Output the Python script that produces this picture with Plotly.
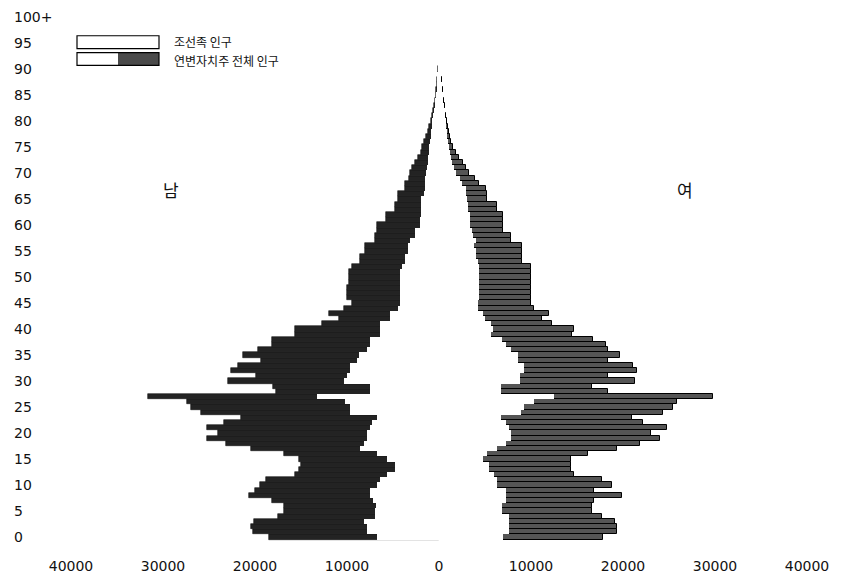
import plotly.graph_objects as go

ages = list(range(0, 101))

male_total = [
    18500, 20200, 20400, 20100, 17500, 16900, 16800, 18200, 20600, 20000,
    19500, 18800, 15700, 15200, 15000, 15200, 16900, 20400, 23200, 25200,
    24000, 25200, 23400, 21500, 25900, 27000, 27400, 31600, 17700, 18000,
    22900, 19900, 22600, 21900, 19300, 21300, 19700, 18200, 18200, 15700,
    15700, 12700, 10900, 12000, 10300, 9500, 10000, 10000, 10000, 9800,
    9800, 9800, 9500, 8600, 8600, 8000, 8000, 7000, 7000, 6700,
    6700, 5800, 5800, 4800, 4800, 4500, 4500, 3700, 3700, 3300,
    3100, 2900, 2600, 2300, 2000, 1800, 1600, 1400, 1200, 1050,
    900, 800, 650, 550, 450, 350, 280, 220, 180, 150,
    120, 30, 20, 15, 10, 8, 5, 4, 3, 2, 2,
]
male_korean = [
    6700, 7800, 7800, 8100, 7000, 7000, 6900, 7200, 7500, 7500,
    6700, 6400, 5600, 4800, 4800, 5600, 6700, 8600, 8100, 7800,
    7800, 7500, 7300, 6700, 9700, 9700, 10200, 13300, 7500, 7500,
    10300, 10000, 9700, 9700, 8900, 8700, 7800, 7500, 7500, 6400,
    6400, 6400, 5300, 5300, 4500, 4200, 4200, 4200, 4200, 4200,
    4200, 4200, 4000, 3700, 3700, 3400, 3400, 3100, 2600, 2600,
    2100, 2100, 2000, 2000, 2000, 2000, 1600, 1500, 1500, 1500,
    1400, 1300, 1200, 1200, 1100, 1100, 950, 900, 850, 800,
    750, 680, 560, 470, 390, 300, 240, 190, 155, 130,
    100, 25, 17, 13, 8, 7, 4, 3, 2, 2, 2,
]
female_total = [
    17800, 19300, 19300, 19100, 17700, 16600, 16600, 16900, 19900, 16900,
    18800, 17700, 14700, 14400, 14400, 14400, 16200, 19300, 21900, 24000,
    23000, 24800, 22200, 21000, 24400, 25400, 25900, 29800, 18400, 16600,
    21300, 18400, 21500, 21100, 18400, 19700, 18400, 18200, 16700, 14500,
    14700, 12300, 11200, 12000, 10300, 10000, 10000, 10000, 10000, 10000,
    10000, 10000, 10000, 9000, 9000, 9000, 9000, 7800, 7800, 7000,
    7000, 7000, 7000, 6300, 6300, 5200, 5200, 5100, 4300, 3900,
    3300, 2900, 2600, 2200, 1900, 1500, 1350, 1200, 1100, 1000,
    900, 800, 700, 650, 550, 450, 380, 330, 300, 250,
    150, 40, 25, 18, 12, 9, 6, 4, 3, 2, 2,
]
female_korean = [
    7000, 7600, 7600, 7600, 7600, 6800, 6800, 7300, 7300, 7300,
    6300, 6300, 6000, 5400, 5400, 4800, 5200, 6300, 7300, 7800,
    7800, 7600, 7300, 6700, 8900, 9200, 10300, 12500, 6700, 6700,
    8800, 8800, 9200, 9200, 8600, 8600, 7800, 7300, 6800, 5700,
    5900, 5600, 5000, 4800, 4200, 4200, 4300, 4300, 4300, 4300,
    4300, 4300, 4300, 4200, 4000, 4000, 3800, 4000, 3700, 3600,
    3400, 3400, 3400, 3200, 3200, 3000, 2900, 2900, 2500, 2300,
    1800, 1600, 1400, 1300, 1200, 1100, 1000, 900, 850, 800,
    760, 680, 600, 550, 470, 380, 320, 280, 255, 210,
    130, 34, 21, 15, 10, 8, 5, 3, 2, 2, 2,
]

y_tick_vals = list(range(0, 101, 5))
y_tick_text = [str(v) for v in range(0, 100, 5)] + ["100+"]
x_tick_vals = [-40000, -30000, -20000, -10000, 0, 10000, 20000, 30000, 40000]
x_tick_text = ["40000", "30000", "20000", "10000", "0", "10000", "20000", "30000", "40000"]

legend_labels = ["조선족 인구", "연변자치주 전체 인구"]
side_labels = ["남", "여"]

# The page body adds an 8px margin, so the figure is laid out 8px smaller
# and positions are planned in window pixels, then shifted.
OFF = 8
W, H = 842 - OFF, 576 - OFF
L_w, R_w, T_w, B_w = 11, 838, 9, 545   # plot area in window pixels
ZERO_W = 439.0
PX_PER_UNIT = 92.0 / 10000.0
PX_PER_YEAR = 5.26
AGE0_W = 537.0

L, R, T, B = L_w - OFF, R_w - OFF, T_w - OFF, B_w - OFF

x_min = -(ZERO_W - L_w) / PX_PER_UNIT
x_max = (R_w - ZERO_W) / PX_PER_UNIT
y_min = -(B_w - AGE0_W) / PX_PER_YEAR
y_max = (AGE0_W - T_w) / PX_PER_YEAR


def px(xw):
    return (xw - OFF - L) / (R - L)


def py(yw):
    return (B - (yw - OFF)) / (B - T)


fig = go.Figure()
fig.add_trace(go.Bar(
    y=ages, x=[-v for v in male_total], orientation="h", width=1,
    marker=dict(color="#232323", line=dict(color="#111111", width=0.6)),
    name=legend_labels[1], showlegend=False,
))
fig.add_trace(go.Bar(
    y=ages, x=female_total, orientation="h", width=1,
    marker=dict(color="#555555", line=dict(color="#000000", width=1)),
    name=legend_labels[1], showlegend=False,
))
fig.add_trace(go.Bar(
    y=ages, x=[-v for v in male_korean], orientation="h", width=1,
    marker=dict(color="#ffffff", line=dict(width=0)),
    name=legend_labels[0], showlegend=False,
))
fig.add_trace(go.Bar(
    y=ages, x=female_korean, orientation="h", width=1,
    marker=dict(color="#ffffff", line=dict(width=0)),
    name=legend_labels[0], showlegend=False,
))

font_num = dict(family="DejaVu Sans, Liberation Sans, sans-serif", size=14, color="#111111")
fig.update_layout(
    width=W, height=H,
    margin=dict(l=L, r=W - R, t=T, b=H - B, pad=0),
    paper_bgcolor="white", plot_bgcolor="white",
    barmode="overlay", bargap=0,
    showlegend=False,
    xaxis=dict(
        range=[x_min, x_max], tickvals=x_tick_vals, ticktext=x_tick_text,
        showgrid=False, zeroline=False, showline=False, ticks="",
        tickfont=font_num, ticklabelstandoff=11,
    ),
    yaxis=dict(
        range=[y_min, y_max], tickvals=y_tick_vals, ticktext=y_tick_text,
        showgrid=False, zeroline=False, showline=False, ticks="",
        ticklabelposition="inside", ticklabeloverflow="allow", tickfont=font_num,
    ),
)

# legend drawn by hand
shapes = [
    dict(type="rect", xref="paper", yref="paper", x0=px(77), x1=px(159), y0=py(43), y1=py(30),
         fillcolor="white", line=dict(color="black", width=1.2)),
    dict(type="rect", xref="paper", yref="paper", x0=px(118), x1=px(159), y0=py(60), y1=py(47),
         fillcolor="#4a4a4a", line=dict(width=0)),
    dict(type="rect", xref="paper", yref="paper", x0=px(77), x1=px(159), y0=py(60), y1=py(47),
         fillcolor="rgba(0,0,0,0)", line=dict(color="black", width=1.2)),
]
fig.update_layout(shapes=shapes)

kfont = dict(family="Noto Sans CJK KR, sans-serif", size=12, color="#111111")
fig.add_annotation(xref="paper", yref="paper", x=px(172), y=py(36), text=legend_labels[0],
                   showarrow=False, xanchor="left", yanchor="middle", font=kfont)
fig.add_annotation(xref="paper", yref="paper", x=px(172), y=py(55), text=legend_labels[1],
                   showarrow=False, xanchor="left", yanchor="middle", font=kfont)

sfont = dict(family="Noto Sans CJK KR, sans-serif", size=17, color="#111111")
fig.add_annotation(xref="paper", yref="paper", x=px(171), y=py(185), text=side_labels[0],
                   showarrow=False, xanchor="center", yanchor="middle", font=sfont)
fig.add_annotation(xref="paper", yref="paper", x=px(685), y=py(185), text=side_labels[1],
                   showarrow=False, xanchor="center", yanchor="middle", font=sfont)

fig.write_html("out.html")
